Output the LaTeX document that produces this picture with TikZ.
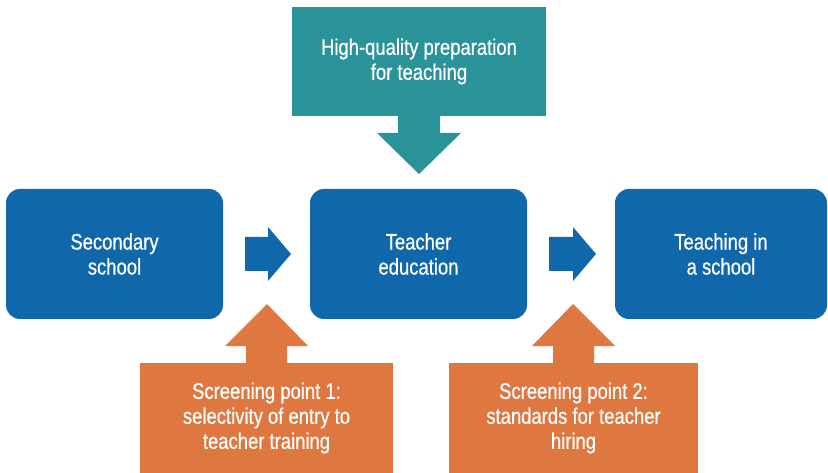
\documentclass[tikz,border=0pt]{standalone}
\usepackage{fontspec}
\setmainfont{Liberation Sans}[FakeStretch=0.82,FakeBold=0.6]
\definecolor{boxblue}{RGB}{16,104,170}
\definecolor{boxteal}{RGB}{42,147,153}
\definecolor{boxorange}{RGB}{222,119,64}
\begin{document}
\begin{tikzpicture}[x=1pt,y=-1pt,
  lbl/.style={text=white, align=center, inner sep=0pt, font=\fontsize{22.5}{25}\selectfont},
  stagebox/.style={lbl, rectangle, fill=boxblue, rounded corners=14pt, minimum width=217pt, minimum height=130pt},
  infobox/.style={lbl, rectangle, minimum height=110pt}]
\useasboundingbox (0,0) rectangle (828,473);
% stage boxes
\node[stagebox] (sec) at (114.5,254) {Secondary\\school};
\node[stagebox] (edu) at (418.5,254) {Teacher\\education};
\node[stagebox, minimum width=212pt] (tch) at (721,254) {Teaching in\\a school};
% top teal box
\node[infobox, fill=boxteal, minimum width=254pt, minimum height=109pt] (prep) at (419,61.5) {High-quality preparation\\for teaching};
% bottom orange boxes
\node[infobox, fill=boxorange, minimum width=253pt] (scr1) at (266.5,418) {Screening point 1:\\selectivity of entry to\\teacher training};
\node[infobox, fill=boxorange, minimum width=249pt] (scr2) at (573.5,418) {Screening point 2:\\standards for teacher\\hiring};
% blue arrows between stages
\fill[boxblue] (245,237) -- (268,237) -- (268,227) -- (291,254) -- (268,281) -- (268,271) -- (245,271) -- cycle;
\fill[boxblue] (549,237) -- (573,237) -- (573,227) -- (596,254) -- (573,281) -- (573,271) -- (549,271) -- cycle;
% teal arrow down
\fill[boxteal] (398,116) -- (440,116) -- (440,133) -- (461,133) -- (419,174) -- (377,133) -- (398,133) -- cycle;
% orange arrows up
\fill[boxorange] (246,363) -- (287,363) -- (287,346) -- (308,346) -- (267,304) -- (225,346) -- (246,346) -- cycle;
\fill[boxorange] (553,363) -- (594,363) -- (594,346) -- (615,346) -- (573,304) -- (532,346) -- (553,346) -- cycle;
\end{tikzpicture}
\end{document}
